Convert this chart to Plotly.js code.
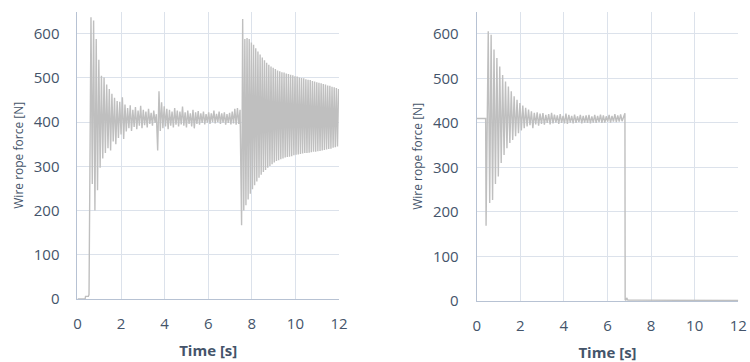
<!DOCTYPE html>
<html><head><meta charset="utf-8">
<script src="https://cdn.plot.ly/plotly-3.0.1.min.js"></script>
<style>html,body{margin:0;padding:0;background:#fff}#chart{width:750px;height:362px}</style>
</head><body><div id="chart"></div>
<script>
// ---------- axes / labels ----------
const xTickValues = [0, 2, 4, 6, 8, 10, 12];
const yTickValues = [0, 100, 200, 300, 400, 500, 600];
const xTitleText = 'Time [s]';
const yTitleText = 'Wire rope force [N]';

// ---------- left chart: wire rope force [N] vs time [s] ----------
const leftLeadTime  = [0, 0.35, 0.37, 0.50, 0.53];
const leftLeadForce = [0, 0, 6, 6, 10];
// successive extremes of the first oscillation, sampled every leftSwingStep seconds from leftSwingStart
const leftSwingStart = 0.62;
const leftSwingStep = 0.06;
const leftSwingForce = [
  637, 260, 630, 200, 588, 246, 541, 297, 505, 318,
  501, 330, 485, 341, 475, 336, 464, 356, 455, 350,
  448, 364, 446, 372, 456, 362, 440, 379, 432, 386,
  438, 380, 428, 389, 434, 384, 426, 392, 437, 386,
  428, 393, 424, 388, 430, 396, 421, 392, 426, 398,
  418, 336, 470, 380, 445, 386, 436, 390, 430, 384,
  428, 392, 424, 388, 432, 394, 426, 390, 424, 395,
  435, 392, 422, 388, 426, 396, 420, 390, 428, 386,
  422, 396, 425, 394, 420, 398, 424, 395, 418, 399,
  422, 396, 420, 400, 426, 397, 419, 400, 424, 396,
  420, 399, 422, 394, 418, 398, 421, 395, 424, 397,
  430, 394, 432, 396, 428
];
// second excitation
const leftKickStart = 7.53;
const leftKickStep = 0.05;
const leftKickForce = [
  167, 633, 200, 588, 212, 590, 225, 588, 238, 580,
  248, 575, 257, 567, 266, 560, 274, 553, 281, 546,
  287, 540, 292, 534, 297, 530, 301, 526, 305, 523,
  309, 520, 312, 517, 314, 515, 316, 513, 318, 512,
  320, 510, 321, 509, 322, 507, 323, 506, 325, 504,
  326, 503, 327, 501, 328, 500, 329, 499, 330, 497,
  330, 496, 331, 495, 332, 493, 333, 492, 333, 490,
  334, 489, 335, 488, 336, 486, 337, 485, 338, 483,
  339, 482, 340, 480, 342, 479, 343, 477, 345, 475
];

// ---------- right chart ----------
const rightLeadTime  = [0, 0.41, 0.43];
const rightLeadForce = [410, 410, 169];
const rightSwingStart = 0.53;
const rightSwingStep = 0.066;
const rightSwingForce = [
  606, 220, 598, 227, 565, 263, 546, 280, 527, 310,
  508, 328, 493, 343, 482, 355, 471, 362, 460, 370,
  452, 377, 445, 383, 439, 388, 434, 392, 430, 395,
  426, 388, 423, 397, 424, 394, 421, 398, 422, 396,
  418, 400, 420, 397, 423, 399, 419, 401, 417, 398,
  420, 400, 416, 399, 421, 398, 418, 401, 416, 399,
  419, 400, 415, 402, 418, 399, 416, 401, 417, 400,
  418, 399, 415, 401, 418, 400, 416, 402, 419, 400,
  417, 401, 415, 403, 418, 401, 416, 403, 420, 402,
  417, 403, 419, 404, 414, 422
];
const rightTailTime  = [6.81, 6.84, 6.88, 6.93, 7.30, 12];
const rightTailForce = [3, 2, 7, 2, 2, 1];

// ---------- build series ----------
function sampled(start, step, values) {
  return values.map((_, i) => +(start + i * step).toFixed(3));
}
const leftTime = leftLeadTime
  .concat(sampled(leftSwingStart, leftSwingStep, leftSwingForce))
  .concat(sampled(leftKickStart, leftKickStep, leftKickForce));
const leftForce = leftLeadForce.concat(leftSwingForce, leftKickForce);

const rightTime = rightLeadTime
  .concat(sampled(rightSwingStart, rightSwingStep, rightSwingForce))
  .concat(rightTailTime);
const rightForce = rightLeadForce.concat(rightSwingForce, rightTailForce);

const lineColor = '#BFBFBF';
const gridColor = '#DCE2EB';
const axisColor = '#B7C2D3';
const textColor = '#44546A';

const traces = [
  {x: leftTime, y: leftForce, type: 'scatter', mode: 'lines', xaxis: 'x', yaxis: 'y',
   line: {color: lineColor, width: 1.4}, hoverinfo: 'skip'},
  {x: rightTime, y: rightForce, type: 'scatter', mode: 'lines', xaxis: 'x2', yaxis: 'y2',
   line: {color: lineColor, width: 1.4}, hoverinfo: 'skip'}
];

function xAxis(domain, anchor) {
  return {
    domain: domain, anchor: anchor, range: [0, 12], tickmode: 'array', tickvals: xTickValues,
    showgrid: true, gridcolor: gridColor, gridwidth: 1, zeroline: false,
    showline: true, linecolor: axisColor, linewidth: 1, ticks: '',
    ticklabelstandoff: 11,
    tickfont: {family: 'Open Sans, sans-serif', size: 15, color: textColor},
    title: {text: xTitleText, standoff: 13,
            font: {family: 'Open Sans, sans-serif', size: 15, color: textColor, weight: 700}}
  };
}
function yAxis(domain, anchor) {
  return {
    domain: domain, anchor: anchor, range: [0, 650], tickmode: 'array', tickvals: yTickValues,
    showgrid: true, gridcolor: gridColor, gridwidth: 1, zeroline: false,
    showline: true, linecolor: axisColor, linewidth: 1, ticks: '',
    ticklabelstandoff: 14,
    tickfont: {family: 'Open Sans, sans-serif', size: 15, color: textColor},
    title: {text: yTitleText, standoff: 7,
            font: {family: 'Open Sans, sans-serif', size: 12, color: textColor}}
  };
}

const layout = {
  width: 750, height: 362,
  margin: {l: 0, r: 0, t: 0, b: 0},
  paper_bgcolor: '#ffffff', plot_bgcolor: '#ffffff',
  showlegend: false,
  xaxis: xAxis([0.1033, 0.452], 'y'),
  yaxis: yAxis([0.174, 0.968], 'x'),
  xaxis2: xAxis([0.6356, 0.9844], 'y2'),
  yaxis2: yAxis([0.1685, 0.9677], 'x2')
};

Plotly.newPlot('chart', traces, layout, {staticPlot: true, displayModeBar: false});
</script>
</body></html>
